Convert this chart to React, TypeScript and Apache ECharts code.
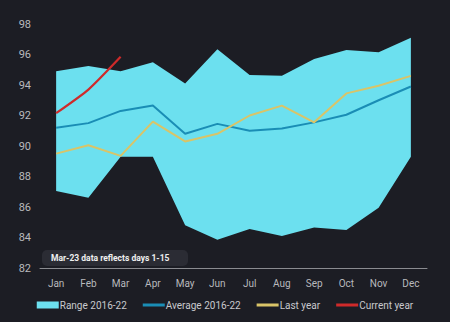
import React, { useEffect, useRef } from "react";
import * as echarts from "echarts";

const months = ["Jan", "Feb", "Mar", "Apr", "May", "Jun", "Jul", "Aug", "Sep", "Oct", "Nov", "Dec"];
const rangeLow = [87.05, 86.6, 89.3, 89.3, 84.8, 83.85, 84.55, 84.1, 84.65, 84.5, 85.95, 89.3];
const rangeHigh = [94.9, 95.25, 94.9, 95.5, 94.1, 96.35, 94.65, 94.6, 95.7, 96.3, 96.15, 97.1];
const average = [91.2, 91.5, 92.3, 92.65, 90.8, 91.45, 91.0, 91.15, 91.55, 92.05, 93.0, 93.9];
const lastYear = [89.5, 90.05, 89.35, 91.6, 90.3, 90.8, 92.0, 92.65, 91.55, 93.45, 93.95, 94.6];
const currentYear = [92.15, 93.7, 95.85];
const yTicks = { min: 82, max: 98, interval: 2 };
const note = "Mar-23 data reflects days 1-15";

export default function App() {
  const ref = useRef<HTMLDivElement>(null);
  useEffect(() => {
    if (!ref.current) return;
    const chart = echarts.init(ref.current, null, { renderer: "svg" });
    const font = "Roboto, 'Noto Sans', sans-serif";
    const lineIcon = "path://M0,0 L22,0 L22,3 L0,3 Z";
    chart.setOption({
      animation: false,
      backgroundColor: "#1c1d24",
      textStyle: { fontFamily: font },
      grid: { left: 40, right: 23, top: 24, bottom: 54 },
      xAxis: {
        type: "category",
        data: months,
        boundaryGap: true,
        axisLine: { lineStyle: { color: "#8a8b90" } },
        axisTick: { lineStyle: { color: "#8a8b90" }, length: 3 },
        axisLabel: { color: "#b8b9bd", fontSize: 10, margin: 10, fontFamily: font },
      },
      yAxis: {
        type: "value",
        min: yTicks.min,
        max: yTicks.max,
        interval: yTicks.interval,
        splitLine: { show: false },
        axisLine: { show: false },
        axisTick: { show: false },
        axisLabel: { color: "#b8b9bd", fontSize: 11, margin: 9, fontFamily: font },
      },
      legend: {
        bottom: 7,
        left: "center",
        itemWidth: 22,
        itemHeight: 7,
        itemGap: 16,
        textStyle: { color: "#c8c9cd", fontSize: 10, fontFamily: font, padding: [0, 0, 0, -4] },
        data: [
          { name: "Range 2016-22", icon: "rect" },
          { name: "Average 2016-22", icon: lineIcon },
          { name: "Last year", icon: lineIcon },
          { name: "Current year", icon: lineIcon },
        ],
      },
      graphic: [
        {
          type: "group",
          left: 42,
          top: 250,
          children: [
            {
              type: "rect",
              shape: { x: 0, y: 0, width: 146, height: 16, r: 5 },
              style: { fill: "#2b2c34" },
            },
            {
              type: "text",
              x: 9,
              y: 8,
              style: {
                text: note,
                fill: "#f0f0f0",
                font: `bold 8.5px ${font}`,
                verticalAlign: "middle",
              },
            },
          ],
        },
      ],
      series: [
        {
          name: "low",
          type: "line",
          data: rangeLow,
          stack: "range",
          symbol: "none",
          lineStyle: { opacity: 0 },
          silent: true,
        },
        {
          name: "Range 2016-22",
          type: "line",
          data: rangeHigh.map((h, i) => +(h - rangeLow[i]).toFixed(2)),
          stack: "range",
          symbol: "none",
          lineStyle: { opacity: 0, width: 0 },
          itemStyle: { color: "#6ce0ef" },
          areaStyle: { color: "#6ce0ef", opacity: 1 },
        },
        {
          name: "Average 2016-22",
          type: "line",
          data: average,
          symbol: "none",
          itemStyle: { color: "#1a8db5" },
          lineStyle: { color: "#1a8db5", width: 2 },
        },
        {
          name: "Last year",
          type: "line",
          data: lastYear,
          symbol: "none",
          itemStyle: { color: "#d9c468" },
          lineStyle: { color: "#d9c468", width: 2 },
        },
        {
          name: "Current year",
          type: "line",
          data: currentYear,
          symbol: "none",
          smooth: 0.2,
          itemStyle: { color: "#cf2a2a" },
          lineStyle: { color: "#cf2a2a", width: 2.2 },
        },
      ],
    });
    return () => chart.dispose();
  }, []);
  return <div ref={ref} style={{ width: 450, height: 322, position: "absolute", left: 0, top: 0 }} />;
}
